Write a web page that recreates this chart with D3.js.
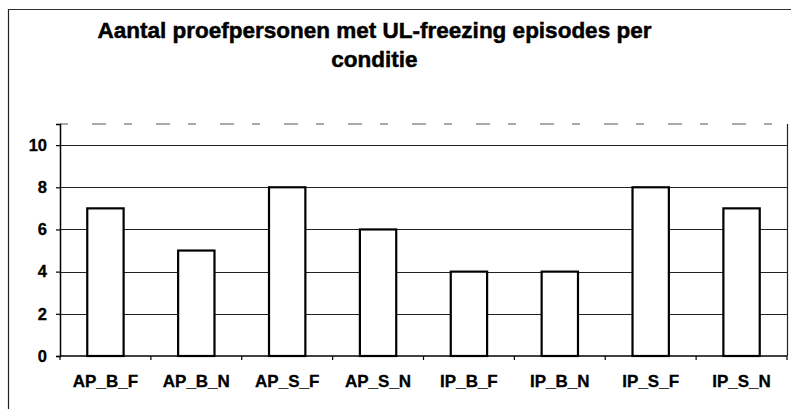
<!DOCTYPE html>
<html>
<head>
<meta charset="utf-8">
<script src="https://cdn.jsdelivr.net/npm/d3@7"></script>
<style>
  html, body { margin: 0; padding: 0; background: #fff; }
  svg { display: block; }
  text { font-family: "Liberation Sans", Arial, sans-serif; font-weight: bold; fill: #000; }
</style>
</head>
<body>
<svg id="chart" width="791" height="409"></svg>
<script>
// Number of subjects with UL-freezing episodes, per condition
const categories = ["AP_B_F", "AP_B_N", "AP_S_F", "AP_S_N", "IP_B_F", "IP_B_N", "IP_S_F", "IP_S_N"];
const values = [7, 5, 8, 6, 4, 4, 8, 7];
const yTicks = [0, 2, 4, 6, 8, 10];
const titleLines = ["Aantal proefpersonen met UL-freezing episodes per", "conditie"];

const svg = d3.select("#chart");
const W = 791, H = 409;
const plot = { left: 60, right: 787, top: 124, bottom: 356 };

// Outer chart frame (left and top edges)
svg.append("line").attr("x1", 8.5).attr("x2", 8.5).attr("y1", 9).attr("y2", H)
  .attr("stroke", "#222").attr("stroke-width", 1.2);
svg.append("line").attr("x1", 8).attr("x2", W).attr("y1", 9.5).attr("y2", 9.5)
  .attr("stroke", "#333").attr("stroke-width", 1.2);

// Title, two lines
const title = svg.append("text").attr("text-anchor", "middle").style("font-size", "22.5px")
  .attr("stroke", "#000").attr("stroke-width", 0.5);
title.append("tspan").attr("x", 374.5).attr("y", 38).text(titleLines[0]);
title.append("tspan").attr("x", 374.5).attr("y", 67).text(titleLines[1]);

const x = d3.scaleBand().domain(categories).range([plot.left, plot.right]).paddingInner(0.6).paddingOuter(0.3);
const xb = d3.scaleBand().domain(categories).range([plot.left, plot.right]);
const y = d3.scaleLinear().domain([0, 11]).range([plot.bottom, plot.top]);

// Plot area top edge (faint, broken) and right edge
svg.append("line").attr("x1", plot.left).attr("x2", plot.right).attr("y1", plot.top).attr("y2", plot.top)
  .attr("stroke", "#555").attr("stroke-width", 1).attr("stroke-dasharray", "8,24,14,18");
svg.append("line").attr("x1", plot.right + 0.5).attr("x2", plot.right + 0.5).attr("y1", plot.top).attr("y2", plot.bottom)
  .attr("stroke", "#222").attr("stroke-width", 1.2);

// Horizontal gridlines
svg.append("g").selectAll("line").data(yTicks.filter(d => d > 0)).join("line")
  .attr("x1", plot.left).attr("x2", plot.right)
  .attr("y1", d => Math.round(y(d)) + 0.5).attr("y2", d => Math.round(y(d)) + 0.5)
  .attr("stroke", "#222").attr("stroke-width", 1);

// Y axis
const yAxis = svg.append("g").attr("transform", `translate(${plot.left},0)`)
  .call(d3.axisLeft(y).tickValues(yTicks).tickSize(4).tickPadding(9));
yAxis.select(".domain").attr("stroke", "#000").attr("stroke-width", 1.5);
yAxis.selectAll(".tick line").attr("stroke", "#000").attr("stroke-width", 1.2);
yAxis.selectAll(".tick text").style("font-size", "16.5px").style("font-family", "Liberation Sans, Arial, sans-serif")
  .attr("font-weight", "bold").attr("stroke", "#000").attr("stroke-width", 0.3);

// X axis with ticks at category boundaries
const xAxisG = svg.append("g");
xAxisG.append("line").attr("x1", plot.left).attr("x2", plot.right).attr("y1", plot.bottom).attr("y2", plot.bottom)
  .attr("stroke", "#000").attr("stroke-width", 1.5);
xAxisG.selectAll("line.tk").data(categories).join("line").attr("class", "tk")
  .attr("x1", d => xb(d) + xb.bandwidth()).attr("x2", d => xb(d) + xb.bandwidth())
  .attr("y1", plot.bottom).attr("y2", plot.bottom + 4)
  .attr("stroke", "#000").attr("stroke-width", 1.2);
xAxisG.append("line").attr("x1", plot.left).attr("x2", plot.left).attr("y1", plot.bottom).attr("y2", plot.bottom + 4)
  .attr("stroke", "#000").attr("stroke-width", 1.2);
xAxisG.selectAll("text").data(categories).join("text")
  .attr("x", d => xb(d) + xb.bandwidth() / 2).attr("y", 387)
  .attr("text-anchor", "middle").style("font-size", "17px")
  .attr("stroke", "#000").attr("stroke-width", 0.3).text(d => d);

// Bars
svg.append("g").selectAll("rect").data(values).join("rect")
  .attr("x", (d, i) => x(categories[i]))
  .attr("width", x.bandwidth())
  .attr("y", d => y(d))
  .attr("height", d => y(0) - y(d))
  .attr("fill", "#fff").attr("stroke", "#000").attr("stroke-width", 2.2);
</script>
</body>
</html>
